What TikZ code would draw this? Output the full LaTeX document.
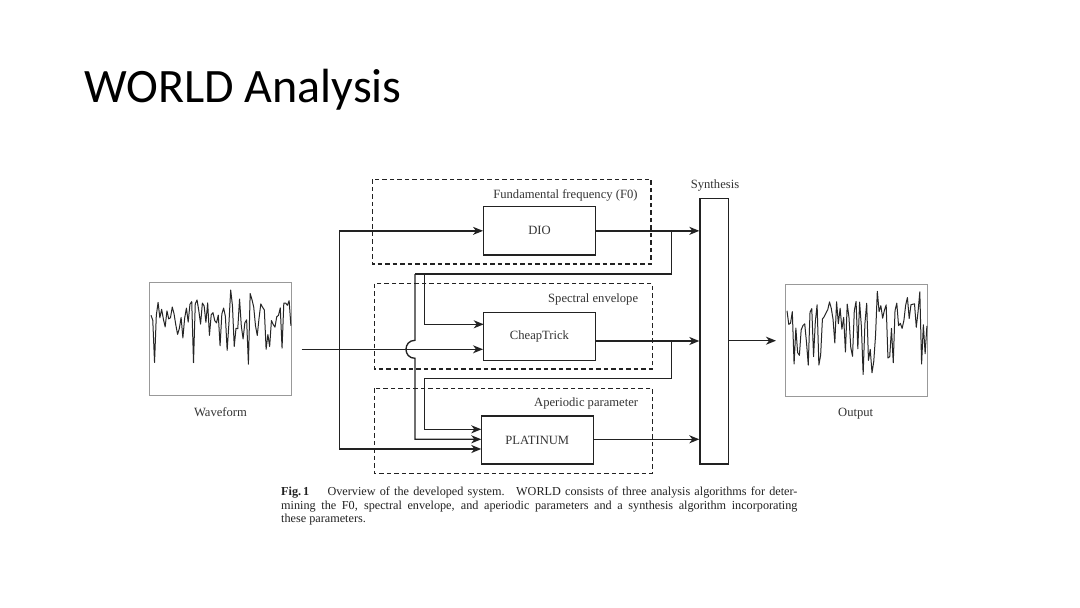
\documentclass[tikz,border=0pt]{standalone}
\usepackage{fontspec}
\setmainfont{Liberation Serif}
\newfontfamily\titlefont{Carlito}
\usetikzlibrary{arrows.meta}
\definecolor{ln}{HTML}{222222}
\definecolor{tx}{HTML}{333333}
\definecolor{fr}{HTML}{999999}
\begin{document}
\begin{tikzpicture}[x=1pt,y=-1pt,
  conn/.style={draw=ln,line width=1.35pt,line join=miter},
  arr/.style={conn,-{Stealth[length=10pt,width=8pt,inset=3pt]}},
  algbox/.style={draw=ln,line width=1.35pt,rectangle,inner sep=0pt,text=tx,font=\fontsize{12.6}{15}\selectfont},
  grp/.style={draw=ln,line width=1.2pt,dash pattern=on 4.5pt off 3pt},
  lbl/.style={text=tx,font=\fontsize{12.6}{15}\selectfont,inner sep=0pt},
  sigbox/.style={draw=fr,line width=0.9pt,rectangle,inner sep=0pt},
  sig/.style={draw=black!85,line width=1pt,line join=round}]
\useasboundingbox[fill=white] (0,0) rectangle (1080,608);

% title
\node[anchor=base west,inner sep=0pt,font=\titlefont\fontsize{48}{56}\selectfont] (title) at (84,102.7) {WORLD Analysis};

% groups
\draw[grp] (372.3,179.3) rectangle (651,264);
\draw[grp] (374.3,283.5) rectangle (652.3,369);
\draw[grp] (374.3,388.3) rectangle (652.3,473.3);
\node[lbl,anchor=east] (lf0) at (637.7,195) {Fundamental frequency (F0)};
\node[lbl,anchor=east] (lsp) at (638.3,299.3) {Spectral envelope};
\node[lbl,anchor=east] (lap) at (638.3,403.3) {Aperiodic parameter};

% algorithm boxes
\node[algbox,minimum width=111.6pt,minimum height=48.3pt] (dio) at (539.5,230.85) {DIO};
\node[algbox,minimum width=111.6pt,minimum height=47.6pt] (ct) at (539.5,336.5) {CheapTrick};
\node[algbox,minimum width=112pt,minimum height=48pt] (pl) at (537.3,440) {PLATINUM};
\node[algbox,minimum width=28.7pt,minimum height=265.7pt] (syn) at (714.35,331.15) {};
\node[lbl,anchor=center] (lsyn) at (715,185) {Synthesis};

% signal boxes
\node[sigbox,minimum width=142.4pt,minimum height=112.7pt] (wave) at (220.5,338.65) {};
\node[sigbox,minimum width=142.3pt,minimum height=112pt] (out) at (856.15,340) {};
\node[lbl] (lwave) at (220.5,411.7) {Waveform};
\node[lbl] (lout) at (855.7,413.3) {Output};

\begin{scope}
\clip (wave.south west) rectangle (wave.north east);
\pgfmathsetseed{11}
\draw[sig] plot[domain=0:1,samples=80] ({151+140*\x},{314+15*rand+(rnd>0.72)*(22+36*rnd)-(rnd>0.85)*10});
\end{scope}
\begin{scope}
\clip (out.south west) rectangle (out.north east);
\pgfmathsetseed{29}
\draw[sig] plot[domain=0:1,samples=80] ({787+140*\x},{316+15*rand+(rnd>0.72)*(22+36*rnd)-(rnd>0.85)*10});
\end{scope}

% coordinates
\coordinate (win) at (301.7,349.3);
\coordinate (jtop) at (339.3,230.85);
\coordinate (jbot) at (339.3,449);
\coordinate (b1) at (671.7,230.85);
\coordinate (f0l) at (415,274);
\coordinate (f0m) at (424.3,274);
\coordinate (hopt) at (415,340.3);
\coordinate (hopb) at (415,358.3);
\coordinate (plmid) at (481.3,439.3);
\coordinate (pltop) at (481.3,429.3);
\coordinate (plbot) at (481.3,449);
\coordinate (ctup) at (483.7,324.3);
\coordinate (ctout) at (595.3,341);
\coordinate (b2) at (671.7,341);
\coordinate (s2l) at (424.3,378.3);
\coordinate (synout) at (728.7,340.7);
\coordinate (outin) at (776,340.7);

% connectors
\draw[arr] (win) -- (ct.west |- win);
\draw[conn] (jtop) -- (jbot);
\draw[arr] (jtop) -- (dio.west);
\draw[arr] (jbot) -- (plbot);
\draw[arr] (dio.east) -- (dio.east -| syn.west);
\draw[conn] (b1) |- (f0l);
\draw[arr] (f0l) -- (hopt) .. controls (403,340.3) and (403,358.3) .. (hopb) |- (plmid);
\draw[arr] (f0m) |- (ctup);
\draw[arr] (ctout) -- (ctout -| syn.west);
\draw[conn] (b2) |- (s2l);
\draw[arr] (s2l) |- (pltop);
\draw[arr] (pl.east |- plmid) -- (plmid -| syn.west);
\draw[arr] (synout) -- (outin);

% caption
\node[anchor=base west,inner sep=0pt,font=\fontsize{12.2}{13.7}\selectfont,text=ln] (cap1) at (281,495.3)
  {\makebox[516.3pt][s]{\textbf{Fig.\,1}\hspace{14pt} Overview of the developed system.\hspace{4pt} WORLD consists of three analysis algorithms for deter-}};
\node[anchor=base west,inner sep=0pt,font=\fontsize{12.2}{13.7}\selectfont,text=ln] (cap2) at (281,509.3)
  {\makebox[516.3pt][s]{mining the F0, spectral envelope, and aperiodic parameters and a synthesis algorithm incorporating}};
\node[anchor=base west,inner sep=0pt,font=\fontsize{12.2}{13.7}\selectfont,text=ln] (cap3) at (281,522.7)
  {these parameters.};
\end{tikzpicture}
\end{document}
